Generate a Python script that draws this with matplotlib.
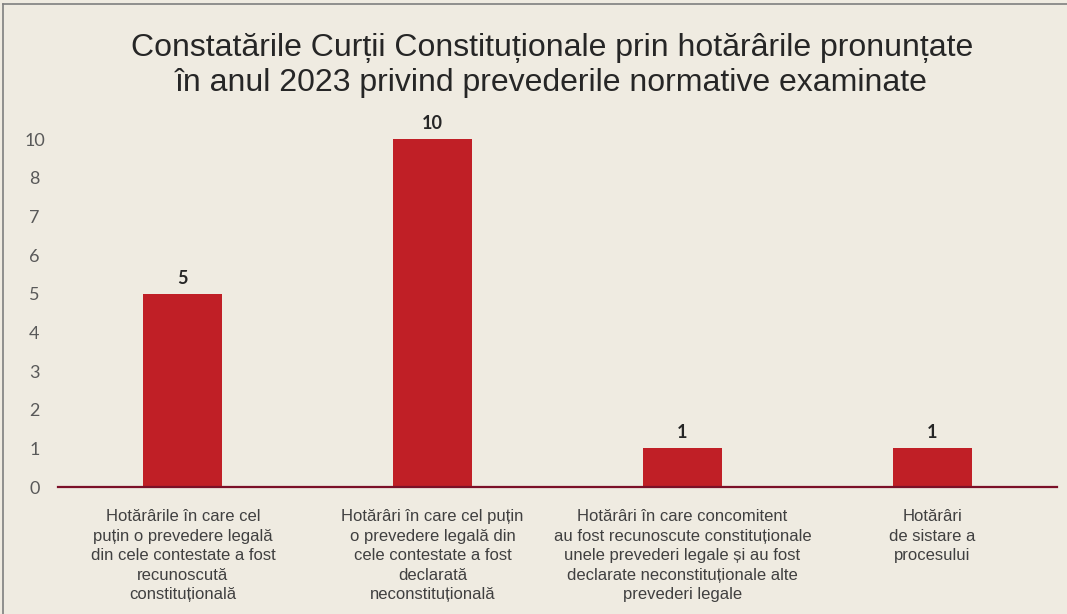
import numpy as np
import matplotlib.pyplot as plt
from matplotlib.lines import Line2D
from matplotlib.transforms import ScaledTranslation

categories = [
    "Hotărârile în care cel\npuțin o prevedere legală\ndin cele contestate a fost\nrecunoscută\nconstituțională",
    "Hotărâri în care cel puțin\no prevedere legală din\ncele contestate a fost\ndeclarată\nneconstituțională",
    "Hotărâri în care concomitent\nau fost recunoscute constituționale\nunele prevederi legale și au fost\ndeclarate neconstituționale alte\nprevederi legale",
    "Hotărâri\nde sistare a\nprocesului",
]
values = [5, 10, 1, 1]
ytick_values = [0, 1, 2, 3, 4, 5, 6, 7, 8, 10]

title = ("Constatările Curții Constituționale prin hotărârile pronunțate\n"
         "în anul 2023 privind prevederile normative examinate")


# the original axis squeezes 8..10 into one step
def fwd(y):
    y = np.asarray(y, dtype=float)
    return np.where(y <= 8, y, 8 + (y - 8) / 2)


def inv(y):
    y = np.asarray(y, dtype=float)
    return np.where(y <= 8, y, 8 + (y - 8) * 2)


bg = "#efebe1"
bar_color = "#c01f26"

fig = plt.figure(figsize=(10.67, 6.14), dpi=100, facecolor=bg)
ax = fig.add_axes([0.0544, 0.2068, 0.9362, 0.5668])
ax.set_facecolor(bg)
ax.set_yscale("function", functions=(fwd, inv))

x = np.arange(len(categories))
bars = ax.bar(x, values, width=0.316, color=bar_color, zorder=2)
ax.set_xlim(-0.5, len(categories) - 0.5)
ax.set_ylim(0, 10)

# value labels a little above each bar
offset = ax.transData + ScaledTranslation(0, 5 / 72, fig.dpi_scale_trans)
for b, v in zip(bars, values):
    ax.text(b.get_x() + b.get_width() / 2, v, str(v), ha="center", va="bottom",
            fontsize=13, fontweight="bold", family="Lato", color="#262626",
            transform=offset, clip_on=False)

ax.set_yticks(ytick_values)
ax.set_yticklabels([str(v) for v in ytick_values], family="Lato", fontsize=13,
                   color="#595959", ha="center")
ax.yaxis.set_minor_locator(plt.NullLocator())
ax.tick_params(axis="y", length=0, pad=17)

ax.set_xticks(x)
ax.set_xticklabels(categories, family="Liberation Sans", fontsize=12, color="#404040",
                   linespacing=1.38, va="top")
ax.tick_params(axis="x", length=0, pad=16)

for s in ["top", "right", "left"]:
    ax.spines[s].set_visible(False)
ax.spines["bottom"].set_color("#7b1028")
ax.spines["bottom"].set_linewidth(1.6)
ax.spines["bottom"].set_zorder(3)

fig.text(0.517, 0.894, title, ha="center", va="center", fontsize=23,
         family="Liberation Sans", color="#262626", linespacing=1.22)

# frame lines of the original picture
fig.add_artist(Line2D([0.003, 1.0], [0.993, 0.993], color="#7f7f7f", lw=1.2))
fig.add_artist(Line2D([0.003, 0.003], [0.0, 0.993], color="#7f7f7f", lw=1.2))

fig.savefig("out.png", dpi=100, facecolor=bg)
